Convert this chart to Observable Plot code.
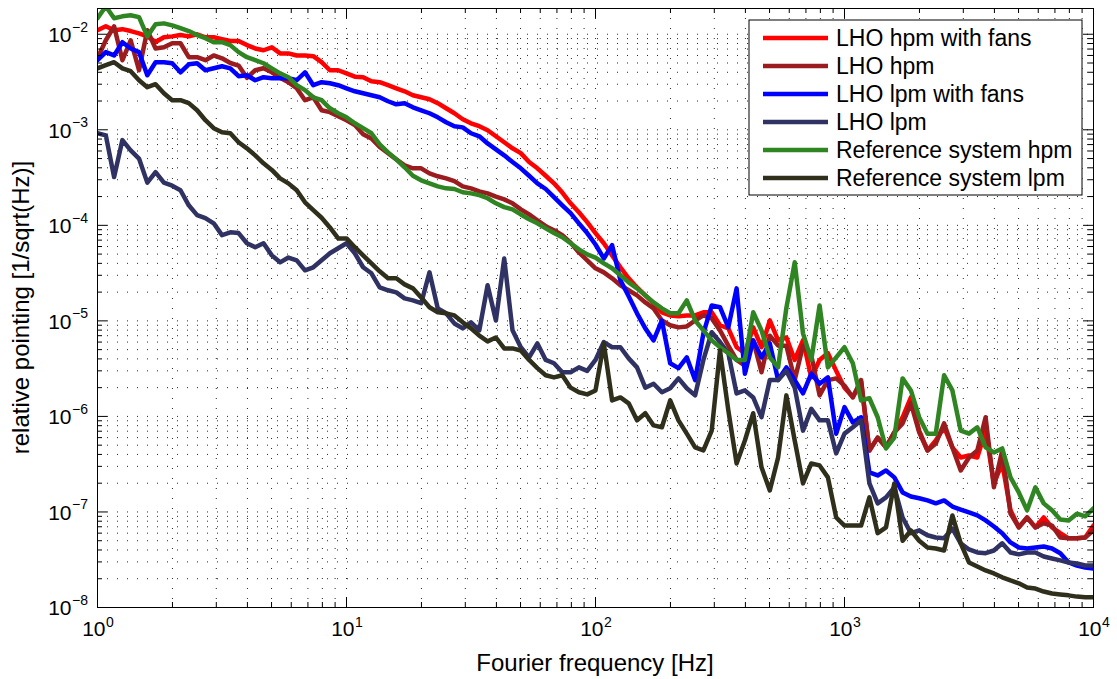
<!DOCTYPE html>
<html>
<head>
<meta charset="utf-8">
<script src="https://cdn.jsdelivr.net/npm/d3@7"></script>
<script src="https://cdn.jsdelivr.net/npm/@observablehq/plot@0.6"></script>
<style>
  html, body { margin: 0; padding: 0; background: #fff; }
  #chart { width: 1117px; height: 679px; }
</style>
</head>
<body>
<div id="chart"></div>
<script>
// Fourier frequency bins [Hz], 30 per decade
const freq = [
  1, 1.08, 1.166, 1.259, 1.359, 1.468, 1.585, 1.711, 1.848, 1.995, 2.154, 2.326, 2.512, 2.712, 2.929, 3.162, 3.415, 3.687, 3.981, 4.299, 4.642, 5.012, 5.412, 5.843, 6.31, 6.813, 7.356, 7.943, 8.577, 9.261,
  10, 10.8, 11.66, 12.59, 13.59, 14.68, 15.85, 17.11, 18.48, 19.95, 21.54, 23.26, 25.12, 27.12, 29.29, 31.62, 34.15, 36.87, 39.81, 42.99, 46.42, 50.12, 54.12, 58.43, 63.1, 68.13, 73.56, 79.43, 85.77, 92.61,
  100, 108, 116.6, 125.9, 135.9, 146.8, 158.5, 171.1, 184.8, 199.5, 215.4, 232.6, 251.2, 271.2, 292.9, 316.2, 341.5, 368.7, 398.1, 429.9, 464.2, 501.2, 541.2, 584.3, 631, 681.3, 735.6, 794.3, 857.7, 926.1,
  1000, 1080, 1166, 1259, 1359, 1468, 1585, 1711, 1848, 1995, 2154, 2326, 2512, 2712, 2929, 3162, 3415, 3687, 3981, 4299, 4642, 5012, 5412, 5843, 6310, 6813, 7356, 7943, 8577, 9261,
  10000
];

// relative pointing noise [1/sqrt(Hz)]
const hpmFans = [
  1.10e-2, 1.21e-2, 1.10e-2, 1.13e-2, 1.08e-2, 1.02e-2, 9.5e-3, 8.3e-3, 9.3e-3, 9.5e-3, 9.8e-3, 9.5e-3, 1.0e-2, 9.3e-3, 9.3e-3, 8.9e-3, 8.5e-3, 8.5e-3, 7.7e-3, 7.1e-3, 6.8e-3, 7.3e-3, 6.3e-3, 6.3e-3, 6.0e-3, 6.0e-3, 5.9e-3, 5.1e-3, 4.2e-3, 4.2e-3, 3.9e-3,
  3.6e-3, 3.55e-3, 3.22e-3, 3.15e-3, 2.93e-3, 2.72e-3, 2.53e-3, 2.30e-3, 2.19e-3, 2.09e-3, 1.90e-3, 1.68e-3, 1.49e-3, 1.29e-3, 1.17e-3, 1.09e-3, 9.9e-4, 8.55e-4, 7.4e-4, 6.4e-4, 5.7e-4, 4.6e-4, 3.95e-4, 3.3e-4, 2.75e-4, 2.2e-4, 1.7e-4, 1.37e-4, 1.08e-4, 8.3e-5,
  6.5e-5, 4.85e-5, 3.64e-5, 2.79e-5, 2.24e-5, 1.85e-5, 1.53e-5, 1.23e-5, 1.14e-5, 1.12e-5, 1.14e-5, 1.14e-5, 1.23e-5, 1.23e-5, 9.0e-6, 8.35e-6, 5.3e-6, 4.6e-6, 8.55e-6, 5.3e-6, 1.01e-5, 6.25e-6, 6.7e-6, 3.9e-6, 6.25e-6, 2.56e-6, 3.9e-6, 4.6e-6, 3.0e-6, 2.0e-6,
  1.6e-6, 2.3e-6, 4.4e-7, 6.0e-7, 4.74e-7, 6.8e-7, 9.8e-7, 1.58e-6, 7.1e-7, 4.4e-7, 5.6e-7, 7.7e-7, 4.74e-7, 3.72e-7, 3.9e-7, 3.72e-7, 7.1e-7, 1.99e-7, 3.22e-7, 1.04e-7, 6.9e-8, 8.75e-8, 6.9e-8, 8.75e-8, 6.9e-8, 6.0e-8, 5.3e-8, 5.3e-8, 5.4e-8, 7.2e-8
];
const hpm = [
  5.6e-3, 8.65e-3, 1.21e-2, 5.35e-3, 8.65e-3, 4.2e-3, 1.10e-2, 7.1e-3, 7.3e-3, 8.05e-3, 8.05e-3, 5.75e-3, 5.75e-3, 5.35e-3, 6.0e-3, 5.6e-3, 5.0e-3, 4.7e-3, 3.5e-3, 4.2e-3, 4.4e-3, 4.0e-3, 3.5e-3, 3.15e-3, 2.72e-3, 2.04e-3, 2.19e-3, 1.60e-3, 1.53e-3, 1.39e-3, 1.26e-3,
  1.12e-3, 9.0e-4, 8.1e-4, 6.6e-4, 5.7e-4, 4.9e-4, 4.25e-4, 3.95e-4, 3.95e-4, 3.5e-4, 3.26e-4, 3.1e-4, 2.9e-4, 2.56e-4, 2.44e-4, 2.27e-4, 2.16e-4, 2.0e-4, 1.87e-4, 1.7e-4, 1.47e-4, 1.3e-4, 1.13e-4, 9.8e-5, 8.9e-5, 7.9e-5, 6.6e-5, 5.2e-5, 4.3e-5, 3.55e-5,
  3.22e-5, 2.79e-5, 2.36e-5, 2.09e-5, 1.85e-5, 1.56e-5, 1.35e-5, 1.01e-5, 9.0e-6, 8.55e-6, 8.75e-6, 1.01e-5, 1.14e-5, 1.06e-5, 7.96e-6, 5.5e-6, 3.9e-6, 3.4e-6, 6.25e-6, 2.9e-6, 7.0e-6, 5.5e-6, 5.5e-6, 2.4e-6, 5.5e-6, 4.35e-6, 1.66e-6, 2.4e-6, 2.5e-6, 2.1e-6,
  1.58e-6, 2.4e-6, 4.4e-7, 6.0e-7, 4.74e-7, 6.8e-7, 8.45e-7, 1.37e-6, 6.8e-7, 4.4e-7, 5.2e-7, 8.45e-7, 4.74e-7, 2.72e-7, 3.72e-7, 4.4e-7, 9.8e-7, 1.81e-7, 4.4e-7, 9.6e-8, 6.9e-8, 8.75e-8, 6.9e-8, 7.6e-8, 7.2e-8, 5.4e-8, 5.3e-8, 5.3e-8, 5.4e-8, 6.4e-8
];
const lpmFans = [
  5.35e-3, 6.5e-3, 6.0e-3, 8.25e-3, 7.1e-3, 6.5e-3, 3.72e-3, 5.1e-3, 5.1e-3, 4.97e-3, 4.0e-3, 4.85e-3, 4.97e-3, 4.2e-3, 4.4e-3, 4.62e-3, 4.4e-3, 3.64e-3, 3.72e-3, 3.3e-3, 3.55e-3, 3.47e-3, 3.47e-3, 3.47e-3, 3.3e-3, 4.0e-3, 2.93e-3, 3.15e-3, 3.07e-3, 2.93e-3, 2.72e-3,
  2.53e-3, 2.41e-3, 2.30e-3, 2.19e-3, 1.99e-3, 1.85e-3, 1.90e-3, 1.72e-3, 1.60e-3, 1.49e-3, 1.35e-3, 1.20e-3, 1.09e-3, 1.06e-3, 9.2e-4, 8.55e-4, 7.2e-4, 6.25e-4, 5.4e-4, 4.6e-4, 3.95e-4, 3.3e-4, 2.75e-4, 2.4e-4, 1.97e-4, 1.62e-4, 1.34e-4, 1.05e-4, 8.3e-5, 6.3e-5,
  4.5e-5, 6.2e-5, 2.66e-5, 1.81e-5, 1.20e-5, 8.35e-6, 6.25e-6, 1.01e-5, 3.6e-6, 3.2e-6, 4.15e-6, 2.4e-6, 7.4e-6, 1.45e-5, 1.39e-5, 8.55e-6, 2.19e-5, 2.8e-6, 6.25e-6, 4.15e-6, 5.8e-6, 2.4e-6, 3.26e-6, 2.4e-6, 1.74e-6, 2.8e-6, 2.2e-6, 2.56e-6, 6.6e-7, 1.25e-6,
  8.65e-7, 9.8e-7, 2.6e-7, 2.41e-7, 2.72e-7, 2.3e-7, 1.6e-7, 1.45e-7, 1.39e-7, 1.32e-7, 1.23e-7, 1.32e-7, 1.14e-7, 1.06e-7, 9.9e-8, 9.2e-8, 8.15e-8, 7.05e-8, 6.0e-8, 4.8e-8, 4.25e-8, 4.15e-8, 4.25e-8, 4.35e-8, 4.15e-8, 3.7e-8, 2.96e-8, 2.75e-8, 2.62e-8, 2.56e-8
];
const lpm = [
  9.2e-4, 8.75e-4, 3.2e-4, 7.8e-4, 6.1e-4, 5.0e-4, 2.8e-4, 3.6e-4, 2.8e-4, 2.6e-4, 2.33e-4, 1.62e-4, 1.28e-4, 1.19e-4, 1.05e-4, 7.9e-5, 8.45e-5, 8.3e-5, 6.5e-5, 5.9e-5, 6.5e-5, 4.85e-5, 4.1e-5, 4.6e-5, 4.3e-5, 3.38e-5, 3.64e-5, 4.3e-5, 5.1e-5, 5.75e-5, 6.5e-5,
  5.1e-5, 3.64e-5, 3.15e-5, 2.24e-5, 2.09e-5, 1.99e-5, 1.72e-5, 1.64e-5, 1.53e-5, 3.22e-5, 1.35e-5, 1.20e-5, 9.4e-6, 8.35e-6, 9.65e-6, 7.96e-6, 2.36e-5, 1.01e-5, 4.5e-5, 7.96e-6, 5.3e-6, 4.15e-6, 5.8e-6, 3.9e-6, 3.6e-6, 2.9e-6, 2.9e-6, 3.26e-6, 3.0e-6, 3.9e-6,
  6.0e-6, 5.3e-6, 5.3e-6, 4.05e-6, 3.26e-6, 2.0e-6, 2.2e-6, 1.79e-6, 1.97e-6, 2.5e-6, 1.97e-6, 1.66e-6, 3.9e-6, 7.6e-6, 6.0e-6, 4.6e-6, 1.74e-6, 1.87e-6, 1.58e-6, 9.8e-7, 2.4e-6, 2.4e-6, 3.0e-6, 2.0e-6, 7.1e-7, 1.2e-6, 9.1e-7, 9.1e-7, 4.1e-7, 6.6e-7,
  7.7e-7, 9.1e-7, 1.99e-7, 1.23e-7, 1.42e-7, 1.81e-7, 8.75e-8, 6.0e-8, 6.4e-8, 5.7e-8, 5.4e-8, 5.3e-8, 6.7e-8, 4.7e-8, 4.05e-8, 3.77e-8, 3.7e-8, 3.95e-8, 4.7e-8, 3.77e-8, 3.6e-8, 3.77e-8, 3.77e-8, 3.42e-8, 3.26e-8, 3.11e-8, 2.96e-8, 2.89e-8, 2.75e-8, 2.75e-8
];
const refHpm = [
  1.47e-2, 1.96e-2, 1.47e-2, 1.54e-2, 1.58e-2, 1.51e-2, 9.5e-3, 1.27e-2, 1.30e-2, 1.24e-2, 1.16e-2, 1.08e-2, 9.8e-3, 9.1e-3, 8.25e-3, 8.25e-3, 7.7e-3, 6.5e-3, 5.75e-3, 5.35e-3, 4.97e-3, 4.4e-3, 3.9e-3, 3.55e-3, 2.93e-3, 2.6e-3, 2.19e-3, 2.04e-3, 1.68e-3, 1.49e-3, 1.35e-3,
  1.17e-3, 1.04e-3, 9.2e-4, 7.05e-4, 5.8e-4, 4.9e-4, 4.05e-4, 3.3e-4, 2.96e-4, 2.75e-4, 2.56e-4, 2.44e-4, 2.4e-4, 2.22e-4, 2.16e-4, 2.07e-4, 1.92e-4, 1.7e-4, 1.55e-4, 1.47e-4, 1.3e-4, 1.16e-4, 1.05e-4, 9.3e-5, 8.3e-5, 7.5e-5, 6.5e-5, 5.6e-5, 4.97e-5, 4.6e-5,
  4.0e-5, 3.55e-5, 3.0e-5, 2.53e-5, 2.19e-5, 1.85e-5, 1.56e-5, 1.35e-5, 1.20e-5, 1.20e-5, 1.64e-5, 1.01e-5, 7.96e-6, 6.25e-6, 5.3e-6, 4.6e-6, 3.9e-6, 3.9e-6, 1.23e-5, 7.96e-6, 4.15e-6, 3.26e-6, 1.37e-5, 4.1e-5, 7.4e-6, 3.9e-6, 1.45e-5, 3.26e-6, 4.15e-6, 5.3e-6,
  3.6e-6, 1.47e-6, 1.55e-6, 9.8e-7, 4.62e-7, 6.0e-7, 2.5e-6, 1.87e-6, 9.8e-7, 6.6e-7, 6.6e-7, 2.7e-6, 1.87e-6, 7.1e-7, 6.6e-7, 7.7e-7, 4.74e-7, 4.2e-7, 4.62e-7, 2.3e-7, 1.6e-7, 1.04e-7, 1.81e-7, 1.23e-7, 1.04e-7, 8.35e-8, 8.15e-8, 9.6e-8, 9.0e-8, 1.09e-7
];
const refLpm = [
  4.4e-3, 4.74e-3, 5.1e-3, 4.4e-3, 4.1e-3, 3.3e-3, 2.79e-3, 3.0e-3, 2.41e-3, 2.04e-3, 2.04e-3, 1.90e-3, 1.60e-3, 1.26e-3, 1.04e-3, 9.4e-4, 9.2e-4, 7.4e-4, 6.4e-4, 5.4e-4, 4.46e-4, 3.8e-4, 3.1e-4, 2.75e-4, 2.33e-4, 1.74e-4, 1.44e-4, 1.2e-4, 9.5e-5, 7.3e-5, 7.3e-5,
  5.9e-5, 4.85e-5, 4.0e-5, 3.3e-5, 2.79e-5, 2.79e-5, 2.41e-5, 2.19e-5, 1.76e-5, 1.39e-5, 1.23e-5, 1.20e-5, 1.14e-5, 9.65e-6, 8.35e-6, 7.0e-6, 6.1e-6, 6.7e-6, 5.15e-6, 5.15e-6, 4.9e-6, 3.9e-6, 3.2e-6, 2.7e-6, 2.56e-6, 2.7e-6, 2.0e-6, 1.79e-6, 1.7e-6, 1.87e-6,
  5.8e-6, 1.47e-6, 1.58e-6, 1.37e-6, 9.1e-7, 1.08e-6, 8.05e-7, 7.7e-7, 1.47e-6, 9.1e-7, 6.6e-7, 4.74e-7, 4.4e-7, 7.1e-7, 4.9e-6, 1.16e-6, 3.22e-7, 5.6e-7, 1.08e-6, 2.93e-7, 1.68e-7, 3.72e-7, 1.66e-6, 5.6e-7, 1.99e-7, 3.22e-7, 3.07e-7, 2.3e-7, 8.75e-8, 7.2e-8,
  7.2e-8, 7.2e-8, 1.42e-7, 6.0e-8, 6.9e-8, 1.99e-7, 5.0e-8, 6.4e-8, 5.0e-8, 4.25e-8, 4.15e-8, 3.95e-8, 9.2e-8, 4.7e-8, 2.96e-8, 2.69e-8, 2.44e-8, 2.27e-8, 2.07e-8, 1.92e-8, 1.79e-8, 1.62e-8, 1.58e-8, 1.47e-8, 1.40e-8, 1.37e-8, 1.34e-8, 1.30e-8, 1.28e-8, 1.28e-8
];

const seriesNames = ["LHO hpm with fans", "LHO hpm", "LHO lpm with fans", "LHO lpm", "Reference system hpm", "Reference system lpm"];
const seriesColors = ["#ff0000", "#9b1c1f", "#0000ff", "#2f3262", "#2f8521", "#2f2f1c"];
const seriesValues = [hpmFans, hpm, lpmFans, lpm, refHpm, refLpm];

// decade tick labels
const xDecades = [1, 10, 100, 1000, 10000];
const xExponents = ["0", "1", "2", "3", "4"];
const yDecades = [1e-8, 1e-7, 1e-6, 1e-5, 1e-4, 1e-3, 1e-2];
const yExponents = ["\u22128", "\u22127", "\u22126", "\u22125", "\u22124", "\u22123", "\u22122"];

const xTitle = "Fourier frequency [Hz]";
const yTitle = "relative pointing [1/sqrt(Hz)]";

// minor (2..9) tick positions inside each decade
const minorOf = (decades) => decades.slice(0, -1).flatMap(d => [2, 3, 4, 5, 6, 7, 8, 9].map(m => d * m));
const xMinor = minorOf(xDecades);
const yMinor = minorOf(yDecades);

const W = 1117, H = 679;
const mL = 97, mR = 24, mT = 8, mB = 72;
const frameW = W - mL - mR, frameH = H - mT - mB;

const rows = seriesNames.map((name, k) => freq.map((f, i) => ({name, f, v: seriesValues[k][i]})));

const dotted = {stroke: "#000", strokeWidth: 1, strokeDasharray: "1,9", strokeOpacity: 0.85};
const fontFamily = "'Liberation Sans', Arial, Helvetica, sans-serif";

const chart = Plot.plot({
  width: W,
  height: H,
  marginLeft: mL,
  marginRight: mR,
  marginTop: mT,
  marginBottom: mB,
  style: {fontFamily, background: "#fff", color: "#000"},
  x: {type: "log", domain: [1, 1e4], axis: null},
  y: {type: "log", domain: [1e-8, 1.86e-2], axis: null},
  marks: [
    // dotted grid on every decade and sub-decade
    Plot.ruleX([...xDecades.slice(1, -1), ...xMinor], {x: d => d, ...dotted}),
    Plot.ruleY([...yDecades.slice(1), ...yMinor], {y: d => d, ...dotted}),
    // spectra
    ...rows.map((data, k) => Plot.line(data, {
      x: "f", y: "v", stroke: seriesColors[k], strokeWidth: 4.5,
      strokeLinejoin: "round", strokeLinecap: "round", clip: true
    })),
    // inward ticks on all four sides
    Plot.tickX(xDecades, {x: d => d, insetTop: frameH - 10, stroke: "#000"}),
    Plot.tickX(xDecades, {x: d => d, insetBottom: frameH - 10, stroke: "#000"}),
    Plot.tickX(xMinor, {x: d => d, insetTop: frameH - 5, stroke: "#000"}),
    Plot.tickX(xMinor, {x: d => d, insetBottom: frameH - 5, stroke: "#000"}),
    Plot.tickY(yDecades, {y: d => d, insetRight: frameW - 10, stroke: "#000"}),
    Plot.tickY(yDecades, {y: d => d, insetLeft: frameW - 10, stroke: "#000"}),
    Plot.tickY(yMinor, {y: d => d, insetRight: frameW - 5, stroke: "#000"}),
    Plot.tickY(yMinor, {y: d => d, insetLeft: frameW - 5, stroke: "#000"}),
    Plot.frame({stroke: "#000", strokeWidth: 1}),
    // tick labels: 10 with superscript exponent
    Plot.text(xDecades, {x: d => d, frameAnchor: "bottom", text: () => "10", textAnchor: "end", dx: 8, dy: 28, fontSize: 21}),
    Plot.text(xDecades, {x: d => d, frameAnchor: "bottom", text: (d, i) => xExponents[i], textAnchor: "start", dx: 8.5, dy: 19, fontSize: 14}),
    Plot.text(yDecades, {y: d => d, frameAnchor: "left", text: () => "10", textAnchor: "end", dx: -26, dy: 1, fontSize: 21}),
    Plot.text(yDecades, {y: d => d, frameAnchor: "left", text: (d, i) => yExponents[i], textAnchor: "start", dx: -25.5, dy: -7, fontSize: 14})
  ]
});

document.getElementById("chart").appendChild(chart);

const svg = d3.select(chart);

// axis titles
svg.append("text")
  .attr("x", mL + frameW / 2).attr("y", H - mB + 56).attr("dy", "0.35em")
  .attr("text-anchor", "middle").attr("font-family", fontFamily).attr("font-size", 24)
  .attr("fill", "#000").text(xTitle);
svg.append("text")
  .attr("transform", `translate(21,${mT + frameH / 2}) rotate(-90)`).attr("dy", "0.35em")
  .attr("text-anchor", "middle").attr("font-family", fontFamily).attr("font-size", 24)
  .attr("fill", "#000").text(yTitle);

// legend box in the upper right of the axes
const legend = svg.append("g")
  .attr("transform", "translate(749,20)")
  .attr("font-family", fontFamily)
  .attr("font-size", 23)
  .attr("text-anchor", "start");
legend.append("rect")
  .attr("width", 333).attr("height", 175)
  .attr("fill", "#fff").attr("stroke", "#000").attr("stroke-width", 1);
seriesNames.forEach((name, k) => {
  const cy = 18 + k * 28;
  legend.append("line")
    .attr("x1", 14).attr("x2", 79).attr("y1", cy).attr("y2", cy)
    .attr("stroke", seriesColors[k]).attr("stroke-width", 4.5);
  legend.append("text")
    .attr("x", 87).attr("y", cy).attr("dy", "0.36em")
    .attr("fill", "#000")
    .text(name);
});
</script>
</body>
</html>
